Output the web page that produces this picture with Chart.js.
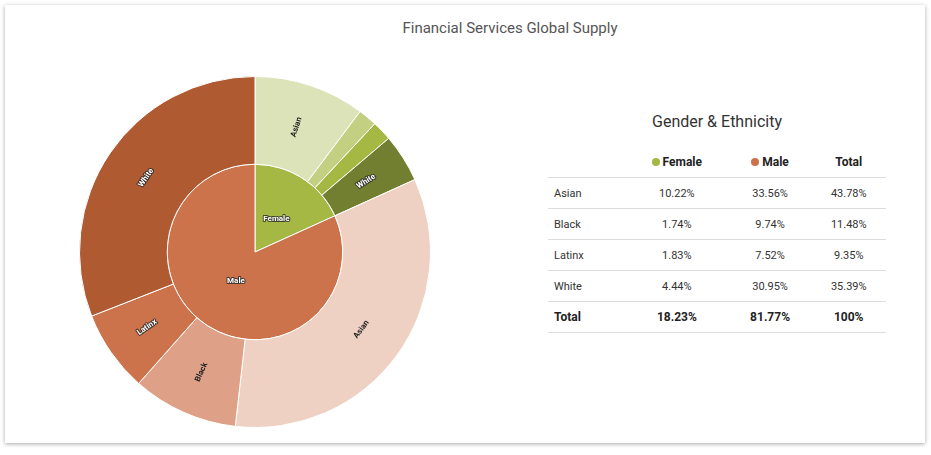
<!DOCTYPE html>
<html>
<head>
<meta charset="utf-8">
<script src="https://cdn.jsdelivr.net/npm/chart.js@4"></script>
<style>
  body { margin: 0; background: #fff; font-family: Roboto, sans-serif; }
  .card { position: absolute; left: 5px; top: 5px; width: 920px; height: 438px; background: #fff;
    box-shadow: 0 1px 4px rgba(0,0,0,0.35); }
  .title { position: absolute; left: 0; width: 1020px; top: 19px; text-align: center; font-size: 15px; color: #555; }
  #wrap { position: absolute; left: 79px; top: 76px; width: 352px; height: 352px; }
  .tbl-title { position: absolute; left: 548px; width: 338px; top: 112px; text-align: center; font-size: 16px; color: #333; }
  table { position: absolute; left: 548px; top: 146px; width: 338px; border-collapse: collapse; font-size: 11px; color: #333; }
  th { font-size: 12px; font-weight: bold; height: 29px; text-align: center; border-bottom: 1px solid #ddd; color:#222; }
  td { height: 28px; text-align: center; border-bottom: 1px solid #ddd; }
  td:first-child { text-align: left; padding-left: 6px; width: 70px; }
  tr.total td { font-weight: bold; font-size: 12px; color:#222; }
  .dot { display: inline-block; width: 8px; height: 8px; border-radius: 50%; margin-right: 3px; }
</style>
</head>
<body>
<div class="card"></div>
<div class="title">Financial Services Global Supply</div>
<div id="wrap"><canvas id="c"></canvas></div>
<div class="tbl-title">Gender &amp; Ethnicity</div>
<table id="t"></table>
<script>
const genders = ["Female", "Male"];
const genderValues = [18.23, 81.77];
const genderColors = ["#a6b844", "#cc734c"];
const ethnicities = ["Asian", "Black", "Latinx", "White"];
const femaleValues = [10.22, 1.74, 1.83, 4.44];
const maleValues = [33.56, 9.74, 7.52, 30.95];
const totalValues = [43.78, 11.48, 9.35, 35.39];
const femaleShades = ["#dde3b8", "#c4d081", "#a6b844", "#727f31"];
const maleShades = ["#efd1c4", "#dea188", "#cc734c", "#b05a32"];

const outerLabels = [...ethnicities, ...ethnicities];
const outerValues = [...femaleValues, ...maleValues];
const outerColors = [...femaleShades, ...maleShades];
const outerShow = [true, false, false, true, true, true, true, true];
const darkText = [true, false, false, false, true, true, false, false];

// table
const t = document.getElementById("t");
let html = '<tr><th></th><th><span class="dot" style="background:' + genderColors[0] + '"></span>Female</th>' +
  '<th><span class="dot" style="background:' + genderColors[1] + '"></span>Male</th><th>Total</th></tr>';
ethnicities.forEach((e, i) => {
  html += `<tr><td>${e}</td><td>${femaleValues[i]}%</td><td>${maleValues[i]}%</td><td>${totalValues[i]}%</td></tr>`;
});
html += `<tr class="total"><td>Total</td><td>${genderValues[0]}%</td><td>${genderValues[1]}%</td><td>100%</td></tr>`;
t.innerHTML = html;

const labelPlugin = {
  id: "arcLabels",
  afterDatasetsDraw(chart) {
    const ctx = chart.ctx;
    ctx.save();
    ctx.textAlign = "center";
    ctx.textBaseline = "middle";
    ctx.lineJoin = "round";
    chart.data.datasets.forEach((ds, di) => {
      chart.getDatasetMeta(di).data.forEach((arc, i) => {
        const isOuter = di === 0;
        if (isOuter && !outerShow[i]) return;
        const mid = (arc.startAngle + arc.endAngle) / 2;
        let r;
        if (isOuter) r = (arc.innerRadius + arc.outerRadius) / 2;
        else r = i === 0 ? arc.outerRadius * 0.45 : arc.outerRadius * 0.4;
        const x = arc.x + Math.cos(mid) * r;
        const y = arc.y + Math.sin(mid) * r;
        ctx.font = "bold 8px Roboto, sans-serif";
        ctx.translate(x, y);
        let rot = 0;
        if (isOuter) {
          const deg = mid * 180 / Math.PI;
          rot = (((deg % 90) + 90) % 90 - 90) * Math.PI / 180;
        }
        ctx.rotate(rot);
        const text = isOuter ? outerLabels[i] : genders[i];
        if (isOuter && darkText[i]) {
          ctx.fillStyle = "#222";
          ctx.fillText(text, 0, 0);
        } else {
          ctx.strokeStyle = "rgba(40,40,40,0.8)";
          ctx.lineWidth = 2;
          ctx.strokeText(text, 0, 0);
          ctx.fillStyle = "#fff";
          ctx.fillText(text, 0, 0);
        }
        ctx.setTransform(chart.currentDevicePixelRatio, 0, 0, chart.currentDevicePixelRatio, 0, 0);
      });
    });
    ctx.restore();
  }
};

new Chart(document.getElementById("c"), {
  type: "doughnut",
  data: {
    labels: outerLabels,
    datasets: [
      { data: outerValues, backgroundColor: outerColors, borderColor: "#fff", borderWidth: 1 },
      { data: genderValues, backgroundColor: genderColors, borderColor: "#fff", borderWidth: 1 }
    ]
  },
  options: {
    responsive: true,
    maintainAspectRatio: false,
    animation: false,
    cutout: 0,
    layout: { padding: 0 },
    plugins: { legend: { display: false }, tooltip: { enabled: false } }
  },
  plugins: [labelPlugin]
});
</script>
</body>
</html>
